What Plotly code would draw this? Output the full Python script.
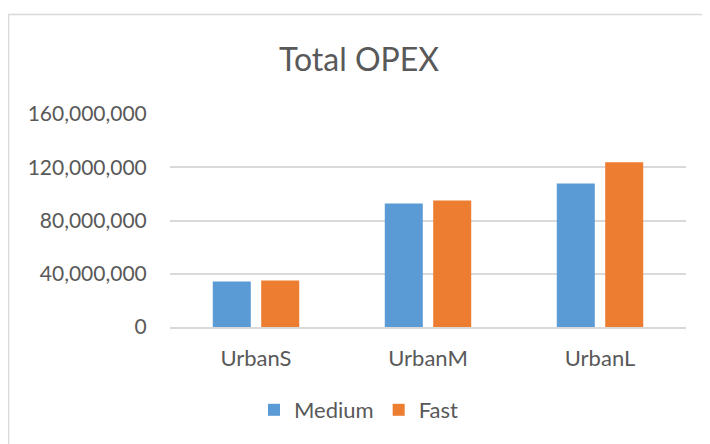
import plotly.graph_objects as go

categories = ["UrbanS", "UrbanM", "UrbanL"]
medium = [34100000, 92800000, 107800000]
fast = [35000000, 95100000, 123800000]
tick_vals = [0, 40000000, 80000000, 120000000, 160000000]
tick_text = ["0", "40,000,000", "80,000,000", "120,000,000", "160,000,000"]

FONT = "Lato, Carlito, Calibri, sans-serif"
TXT = "#595959"

# page body has an 8px margin; lay out the figure to compensate
W, H = 702, 436

fig = go.Figure()
fig.add_trace(go.Bar(name="Medium", x=categories, y=medium, marker=dict(color="#5B9BD5", line=dict(width=0))))
fig.add_trace(go.Bar(name="Fast", x=categories, y=fast, marker=dict(color="#ED7D31", line=dict(width=0))))

fig.update_layout(
    width=W, height=H,
    margin=dict(l=162, r=24, t=106, b=117),
    paper_bgcolor="white", plot_bgcolor="white",
    barmode="group", bargap=0.437, bargroupgap=0.215,
    font=dict(family=FONT, color=TXT, size=21),
    title=dict(text="Total OPEX", x=0.5, xanchor="center", y=1 - 52/H, yanchor="middle",
               font=dict(family=FONT, size=32, color=TXT)),
    showlegend=True,
    legend=dict(orientation="h", x=0.5, xanchor="center", xref="container",
                y=1 - 402/H, yref="container", yanchor="middle",
                font=dict(family=FONT, size=22, color=TXT), itemwidth=30,
                traceorder="normal"),
    hovermode=False,
)
fig.update_yaxes(range=[0, 160000000], tickvals=tick_vals, ticktext=tick_text,
                 showgrid=True, gridcolor="#D9D9D9", gridwidth=1.5, zeroline=False,
                 showline=False, ticks="outside", ticklen=18, tickcolor="rgba(0,0,0,0)",
                 tickfont=dict(family=FONT, size=21, color=TXT))
fig.update_xaxes(showline=True, linecolor="#D9D9D9", linewidth=1.5, showgrid=False,
                 ticks="outside", ticklen=11, tickcolor="rgba(0,0,0,0)",
                 tickfont=dict(family=FONT, size=22, color=TXT))
fig.add_shape(type="rect", xref="paper", yref="paper",
              x0=(0.5 - 162) / 516, x1=1.2, y0=-0.7, y1=(319 - 6.5) / 213,
              line=dict(color="#D9D9D9", width=1.5), fillcolor="rgba(0,0,0,0)", layer="below")

fig.write_html("out.html")
